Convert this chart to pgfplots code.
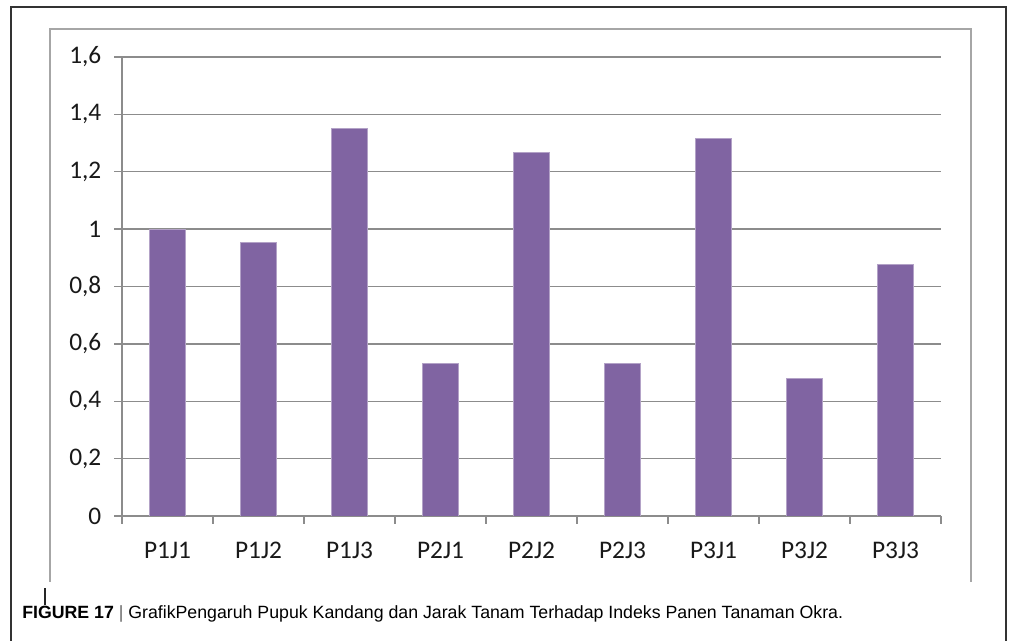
\documentclass[border=0pt]{standalone}
\usepackage{pgfplots}
\pgfplotsset{compat=1.18}
\usepackage{fontspec}
\setmainfont{Carlito}
\newfontfamily\capfont{Liberation Sans}
\definecolor{barpurple}{HTML}{8064A2}
\definecolor{baredge}{HTML}{B3A2C7}
\definecolor{gridgray}{HTML}{8C8C8C}
\definecolor{framegray}{HTML}{A6A6A6}
\begin{document}
\begin{tikzpicture}[x=0.75pt,y=0.75pt]
\useasboundingbox (0,0) rectangle (1011,641);
\fill[white] (0,0) rectangle (1011,641);
\draw[color=black!80, line width=1.1pt] (11,0) -- (11,634) -- (1006,634) -- (1006,0);
\draw[color=framegray, line width=1.5pt] (50,59) -- (50,612) -- (971,612) -- (971,59);
\draw[color=black!85, line width=1.3pt] (45,36) -- (45,53);
\node[anchor=base west, inner sep=0pt] at (22,22) {\capfont\fontsize{13.3}{16}\selectfont\textbf{FIGURE 17} {\color{black!60}|} GrafikPengaruh Pupuk Kandang dan Jarak Tanam Terhadap Indeks Panen Tanaman Okra.};
\begin{axis}[
  at={(91.5pt,93.75pt)}, anchor=south west,
  scale only axis, width=614.25pt, height=344.25pt,
  xmin=-0.5, xmax=8.5, ymin=0, ymax=1.6,
  axis x line*=bottom, axis y line*=left,
  axis line style={gridgray, line width=1.1pt, -},
  tick align=outside, major tick length=6pt,
  tick style={gridgray, line width=1.1pt},
  ytick={0,0.2,0.4,0.6,0.8,1,1.2,1.4,1.6},
  yticklabels={0,{0,2},{0,4},{0,6},{0,8},1,{1,2},{1,4},{1,6}},
  ymajorgrids, grid style={gridgray, line width=1.1pt},
  xtick={-0.5,0.5,1.5,2.5,3.5,4.5,5.5,6.5,7.5,8.5},
  xticklabels={},
  extra x ticks={0,1,2,3,4,5,6,7,8},
  extra x tick labels={P1J1,P1J2,P1J3,P2J1,P2J2,P2J3,P3J1,P3J2,P3J3},
  extra x tick style={major tick length=0pt, grid=none},
  ticklabel style={font=\fontsize{19}{22}\selectfont, color=black!90},
  xticklabel style={yshift=-16pt},
  yticklabel style={xshift=-6pt},
]
\addplot[ybar, bar width=27pt, fill=barpurple, draw=baredge, line width=0.6pt]
  coordinates {(0,1.0) (1,0.952) (2,1.35) (3,0.533) (4,1.266) (5,0.533) (6,1.315) (7,0.478) (8,0.876)};
\end{axis}
\end{tikzpicture}
\end{document}
